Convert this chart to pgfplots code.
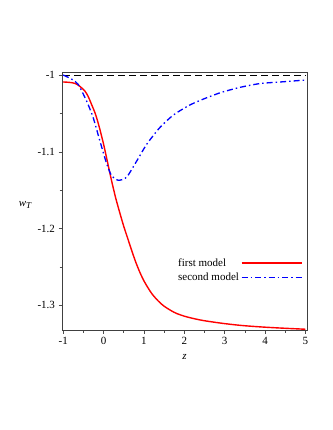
\documentclass[border=0pt]{standalone}
\usepackage{fontspec}
\setmainfont{Liberation Serif}
\usepackage{pgfplots}
\pgfplotsset{compat=1.18}
\begin{document}
\begin{tikzpicture}[x=1pt,y=1pt]
% page frame, 332 x 430 like the reference
\path (0,0) rectangle (332,-430);
\begin{axis}[
  at={(62pt,-330pt)}, anchor=south west,
  scale only axis, width=245pt, height=258pt,
  font=\fontsize{11}{13}\selectfont,
  xmin=-1.03, xmax=5.04, ymin=-1.332, ymax=-0.996,
  xtick={-1,0,1,2,3,4,5},
  ytick={-1,-1.1,-1.2,-1.3},
  yticklabels={-1,-1.1,-1.2,-1.3},
  xticklabels={-1,0,1,2,3,4,5},
  minor x tick num=1, minor y tick num=1,
  xtick pos=bottom, ytick pos=left,
  tick align=outside,
  major tick length=3.5pt, minor tick length=2.5pt,
  tick style={black!70, line width=0.6pt},
  axis line style={black!75, line width=0.8pt},
  every axis y label/.style={at={(axis description cs:-0.15,0.485)}, anchor=center},
  every axis x label/.style={at={(axis description cs:0.5,-0.105)}, anchor=center},
  ylabel={\textit{w}\raisebox{-0.45ex}{\fontsize{9}{10}\selectfont\textit{T}}},
  xlabel={\textit{z}},
  legend plot pos=right,
  legend cell align=left,
  legend style={at={(axis cs:4.93,-1.236)}, anchor=north east, draw=none, fill=none,
    inner sep=0pt, row sep=1pt, font=\fontsize{11}{13}\selectfont},
  legend image code/.code={\draw[#1] (0pt,0pt) -- (60pt,0pt);},
]
\addplot[black, line width=0.7pt, dash pattern=on 7pt off 4pt, forget plot]
  coordinates {(-1,-1) (5,-1)};
\addplot[red, line width=1.4pt, smooth, tension=0.5] coordinates {
  (-1,-1.009) (-0.85,-1.0095) (-0.7,-1.011) (-0.58,-1.015) (-0.46,-1.021)
  (-0.38,-1.028) (-0.3,-1.038) (-0.2,-1.051) (-0.1,-1.069) (0,-1.090)
  (0.1,-1.114) (0.2,-1.138) (0.3,-1.160) (0.4,-1.179) (0.5,-1.197)
  (0.6,-1.213) (0.7,-1.229) (0.8,-1.244) (0.9,-1.257) (1.0,-1.268)
  (1.1,-1.277) (1.2,-1.285) (1.35,-1.294) (1.5,-1.301) (1.75,-1.309)
  (2.0,-1.314) (2.4,-1.319) (2.9,-1.323) (3.4,-1.326) (3.9,-1.328)
  (4.4,-1.3295) (5,-1.331)
};
\addplot[blue, line width=1.3pt, smooth, tension=0.4,
  dash pattern=on 6pt off 3pt on 1.5pt off 3pt] coordinates {
  (-1,-1.000) (-0.8,-1.005) (-0.63,-1.012) (-0.42,-1.034) (-0.26,-1.055)
  (-0.09,-1.086) (0.08,-1.116) (0.2,-1.131) (0.365,-1.137) (0.57,-1.133)
  (0.82,-1.112) (1.07,-1.090) (1.4,-1.068) (1.73,-1.052) (2.1,-1.040)
  (2.39,-1.033) (2.89,-1.023) (3.38,-1.016) (3.88,-1.011) (4.38,-1.009)
  (5,-1.0065)
};
\legend{first model, second model}
\end{axis}
\end{tikzpicture}
\end{document}
